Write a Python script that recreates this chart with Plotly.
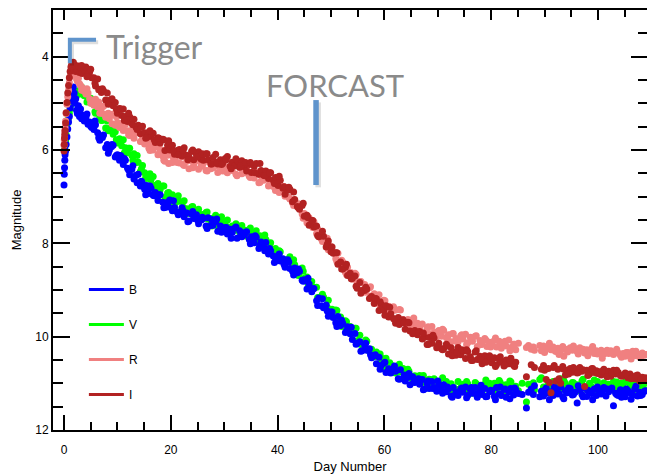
import plotly.graph_objects as go

# Main observation epochs (days since outburst), shared by all four filters
DAYS = [
    0.0, 0.05, 0.1, 0.15, 0.2, 0.3, 0.4, 0.55, 0.7, 0.85,
    1.0, 1.15, 1.3, 1.45, 1.6, 1.75, 1.9, 2.05, 2.2, 2.35,
    2.5, 2.7, 2.9, 3.1, 3.4, 3.8, 4.1, 4.5, 4.8, 5.2,
    5.6, 5.9, 6.3, 6.7, 7.0, 7.4, 7.8, 8.1, 8.5, 8.9,
    9.2, 9.6, 10.0, 10.4, 10.8, 11.1, 11.5, 11.9, 12.3, 12.7,
    13.1, 13.5, 13.9, 14.3, 14.7, 15.1, 15.5, 15.9, 16.3, 16.7,
    17.1, 17.6, 18.0, 18.5, 18.9, 19.4, 19.8, 20.3, 20.7, 21.2,
    21.6, 22.1, 22.5, 23.0, 23.4, 23.9, 24.3, 24.8, 25.2, 25.7,
    26.1, 26.6, 27.0, 27.5, 27.9, 28.4, 28.8, 29.3, 29.7, 30.2,
    30.6, 31.1, 31.5, 32.0, 32.4, 32.9, 33.3, 33.8, 34.2, 34.7,
    35.1, 35.6, 36.0, 36.5, 36.9, 37.4, 37.8, 38.3, 38.7, 39.2,
    39.6, 40.1, 40.5, 41.0, 41.4, 41.9, 42.3, 42.8, 43.2, 43.7,
    44.1, 44.6, 45.0, 45.5, 45.9, 46.4, 46.8, 47.3, 47.7, 48.2,
    48.6, 49.1, 49.5, 50.0, 50.4, 50.9, 51.3, 51.8, 52.2, 52.7,
    53.1, 53.6, 54.0, 54.5, 54.9, 55.4, 55.8, 56.3, 56.7, 57.2,
    57.6, 58.1, 58.5, 59.0, 59.4, 59.9, 60.3, 60.8, 61.2, 61.7,
    62.1, 62.6, 63.0, 63.5, 63.9, 64.4, 64.8, 65.3, 65.7, 66.2,
    66.6, 67.1, 67.5, 68.0, 68.4, 68.9, 69.3, 69.8, 70.2, 70.7,
    71.1, 71.6, 72.0, 72.5, 72.9, 73.4, 73.8, 74.3, 74.7, 75.2,
    75.6, 76.1, 76.5, 77.0, 77.4, 77.9, 78.3, 78.8, 79.2, 79.7,
    80.1, 80.6, 81.0, 81.5, 81.9, 82.4, 82.8, 83.3, 83.7, 84.2,
    84.6, 85.1, 86.6, 87.0, 87.5, 87.9, 89.4, 89.8, 90.3, 90.7,
    91.2, 91.6, 92.1, 92.5, 93.0, 93.4, 93.9, 94.3, 94.8, 95.2,
    95.7, 96.1, 96.6, 97.0, 97.5, 97.9, 98.4, 98.8, 99.3, 99.7,
    100.2, 100.6, 101.1, 101.5, 102.0, 102.4, 102.9, 103.3, 103.8, 104.2,
    104.7, 105.1, 105.6, 106.0, 106.5, 106.9, 107.4, 107.8, 108.3, 108.7,
]

B_MAG = [
    6.75, 6.52, 6.38, 6.22, 6.1, 6.02, 5.88, 5.72, 5.55, 5.4,
    5.28, 5.1, 4.95, 4.82, 4.7, 4.65, 4.78, 5.0, 4.9, 5.15,
    5.22, 5.05, 5.28, 5.12, 5.25, 5.38, 5.3, 5.45, 5.4, 5.52,
    5.56, 5.46, 5.63, 5.79, 5.71, 5.68, 5.95, 5.88, 6.0, 5.93,
    5.9, 6.15, 6.1, 6.22, 6.15, 6.31, 6.22, 6.39, 6.53, 6.42,
    6.62, 6.54, 6.52, 6.77, 6.72, 6.84, 6.76, 6.93, 6.82, 6.97,
    6.91, 7.08, 6.96, 7.12, 7.23, 7.12, 7.07, 7.3, 7.23, 7.33,
    7.36, 7.24, 7.43, 7.35, 7.52, 7.37, 7.47, 7.39, 7.58, 7.5,
    7.46, 7.63, 7.45, 7.62, 7.61, 7.54, 7.74, 7.63, 7.74, 7.66,
    7.8, 7.7, 7.77, 7.67, 7.89, 7.73, 7.86, 7.82, 7.75, 7.92,
    7.86, 7.99, 7.87, 8.11, 7.97, 8.08, 7.98, 8.23, 8.16, 8.27,
    8.38, 8.27, 8.38, 8.33, 8.51, 8.35, 8.54, 8.6, 8.53, 8.63,
    8.6, 8.79, 8.78, 8.98, 8.87, 9.04, 8.97, 9.23, 9.17, 9.34,
    9.38, 9.32, 9.56, 9.47, 9.59, 9.7, 9.57, 9.76, 9.71, 9.91,
    9.79, 9.94, 10.06, 9.93, 10.14, 10.11, 10.3, 10.18, 10.29, 10.26,
    10.45, 10.41, 10.58, 10.44, 10.62, 10.57, 10.77, 10.69, 10.78, 10.68,
    10.74, 10.9, 10.71, 10.9, 10.95, 10.87, 11.03, 10.86, 10.98, 10.91,
    11.02, 10.92, 11.12, 11.0, 11.11, 10.96, 11.09, 11.17, 11.04, 11.15,
    11.03, 11.18, 11.12, 11.27, 11.09, 11.19, 11.26, 11.12, 11.19, 11.08,
    11.26, 11.13, 11.21, 11.09, 11.3, 11.16, 11.24, 11.11, 11.28, 11.18,
    11.16, 11.28, 11.09, 11.23, 11.26, 11.13, 11.3, 11.18, 11.11, 11.25,
    11.14, 11.22, 11.53, 11.19, 11.12, 11.24, 11.17, 11.27, 11.1, 11.21,
    11.18, 11.26, 11.13, 11.23, 11.08, 11.29, 11.16, 11.2, 11.11, 11.25,
    11.19, 11.42, 11.14, 11.24, 11.1, 11.28, 11.17, 11.22, 11.12, 11.26,
    11.15, 11.23, 11.09, 11.27, 11.18, 11.13, 11.48, 11.21, 11.26, 11.14,
    11.22, 11.29, 11.16, 11.2, 11.25, 11.12, 11.27, 11.19, 11.24, 11.17,
]

V_MAG = [
    None, None, 6.0, 5.93, 5.88, 5.8, 5.68, 5.55, 5.42, 5.32,
    5.22, 5.12, 5.03, 4.96, 4.9, 4.86, 4.92, 4.82, 4.77, 4.83,
    4.74, 4.79, 4.72, 4.8, 4.75, 4.84, 4.82, 4.9, 4.95, 5.0,
    5.01, 5.21, 5.08, 5.3, 5.37, 5.33, 5.53, 5.38, 5.54, 5.52,
    5.66, 5.61, 5.85, 5.76, 5.91, 5.78, 5.95, 6.06, 5.96, 6.11,
    6.08, 6.27, 6.26, 6.46, 6.33, 6.49, 6.61, 6.53, 6.64, 6.57,
    6.8, 6.72, 6.85, 6.77, 7.02, 6.92, 7.04, 6.96, 7.16, 7.1,
    7.1, 7.26, 7.09, 7.26, 7.32, 7.22, 7.42, 7.32, 7.27, 7.44,
    7.47, 7.34, 7.48, 7.59, 7.46, 7.4, 7.62, 7.55, 7.64, 7.54,
    7.5, 7.72, 7.63, 7.72, 7.61, 7.76, 7.62, 7.76, 7.85, 7.73,
    7.9, 7.79, 7.73, 7.97, 7.9, 8.01, 7.92, 8.1, 7.99, 8.16,
    8.11, 8.29, 8.18, 8.34, 8.45, 8.34, 8.29, 8.53, 8.46, 8.57,
    8.62, 8.53, 8.75, 8.72, 8.93, 8.82, 8.96, 8.94, 9.17, 9.14,
    9.15, 9.37, 9.22, 9.44, 9.46, 9.43, 9.66, 9.58, 9.72, 9.66,
    9.84, 9.78, 9.88, 9.82, 10.09, 9.97, 10.13, 10.13, 10.1, 10.31,
    10.27, 10.43, 10.33, 10.58, 10.45, 10.56, 10.46, 10.69, 10.6, 10.69,
    10.78, 10.65, 10.75, 10.68, 10.86, 10.7, 10.88, 10.92, 10.84, 10.92,
    10.83, 10.98, 10.93, 11.07, 10.91, 11.02, 10.9, 11.09, 10.98, 11.09,
    11.08, 10.96, 11.15, 11.01, 11.08, 11.14, 10.96, 11.1, 11.02, 11.17,
    11.01, 11.1, 11.17, 10.98, 11.13, 11.05, 11.2, 11.02, 11.09, 11.0,
    11.12, 11.0, 11.15, 10.94, 11.08, 11.18, 11.03, 11.1, 10.97, 11.14,
    11.06, 11.16, 11.4, 11.02, 11.12, 10.99, 10.88, 11.08, 11.15, 11.01,
    11.1, 10.96, 11.14, 11.04, 10.9, 11.12, 11.0, 11.17, 11.06, 10.98,
    11.11, 11.03, 11.16, 10.95, 11.09, 11.13, 11.0, 11.07, 10.93, 11.12,
    11.05, 11.15, 10.99, 11.1, 11.02, 11.14, 10.96, 11.08, 11.12, 11.0,
    11.09, 10.97, 11.13, 11.04, 11.16, 11.01, 11.11, 10.98, 11.07, 11.14,
]

R_MAG = [
    5.9, 5.78, 5.72, 5.6, 5.52, 5.38, 5.22, 5.02, 4.86, 4.72,
    4.56, 4.42, 4.3, 4.2, 4.15, 4.22, 4.32, 4.4, 4.36, 4.48,
    4.52, 4.46, 4.58, 4.62, 4.66, 4.74, 4.8, 4.78, 4.9, 4.95,
    5.04, 4.91, 5.08, 5.21, 5.1, 5.06, 5.3, 5.23, 5.33, 5.25,
    5.23, 5.47, 5.41, 5.52, 5.43, 5.58, 5.45, 5.59, 5.69, 5.57,
    5.75, 5.63, 5.58, 5.82, 5.76, 5.87, 5.79, 5.96, 5.85, 6.0,
    5.93, 6.1, 5.98, 6.13, 6.24, 6.11, 6.05, 6.27, 6.19, 6.27,
    6.28, 6.15, 6.33, 6.24, 6.4, 6.23, 6.32, 6.23, 6.41, 6.32,
    6.28, 6.44, 6.24, 6.4, 6.38, 6.29, 6.48, 6.36, 6.45, 6.35,
    6.49, 6.38, 6.44, 6.33, 6.55, 6.38, 6.51, 6.46, 6.39, 6.56,
    6.48, 6.6, 6.47, 6.7, 6.55, 6.65, 6.54, 6.77, 6.69, 6.78,
    6.87, 6.74, 6.85, 6.79, 6.99, 6.85, 7.05, 7.13, 7.08, 7.21,
    7.17, 7.37, 7.36, 7.56, 7.45, 7.61, 7.54, 7.79, 7.73, 7.9,
    7.94, 7.89, 8.14, 8.07, 8.2, 8.33, 8.21, 8.43, 8.4, 8.62,
    8.51, 8.66, 8.77, 8.64, 8.84, 8.82, 9.01, 8.88, 8.99, 8.95,
    9.13, 9.08, 9.24, 9.1, 9.28, 9.22, 9.43, 9.35, 9.46, 9.36,
    9.43, 9.61, 9.43, 9.63, 9.69, 9.63, 9.8, 9.64, 9.76, 9.71,
    9.82, 9.73, 9.93, 9.81, 9.93, 9.78, 9.91, 10.0, 9.87, 9.99,
    9.87, 10.02, 9.96, 10.11, 9.93, 10.04, 10.11, 9.98, 10.05, 9.95,
    10.13, 10.01, 10.1, 9.99, 10.21, 10.08, 10.16, 10.04, 10.21, 10.12,
    10.18, 10.08, 10.22, 10.1, 10.25, 10.13, 10.2, 10.07, 10.24, 10.16,
    10.28, 10.14, 10.23, 10.19, 10.27, 10.22, 10.3, 10.2, 10.26, 10.24,
    10.28, 10.22, 10.32, 10.25, 10.3, 10.21, 10.27, 10.33, 10.24, 10.29,
    10.26, 10.32, 10.24, 10.3, 10.35, 10.28, 10.31, 10.26, 10.36, 10.3,
    10.34, 10.29, 10.37, 10.32, 10.36, 10.3, 10.38, 10.33, 10.35, 10.4,
    10.36, 10.42, 10.34, 10.39, 10.31, 10.41, 10.37, 10.44, 10.35, 10.4,
]

I_MAG = [
    6.02, 5.88, 5.75, 5.66, 5.58, 5.42, 5.2, 4.98, 4.78, 4.62,
    4.45, 4.32, 4.22, 4.16, 4.24, 4.12, 4.28, 4.18, 4.32, 4.22,
    4.3, 4.2, 4.34, 4.24, 4.36, 4.28, 4.22, 4.38, 4.33, 4.45,
    4.45, 4.63, 4.48, 4.7, 4.77, 4.73, 4.93, 4.78, 4.94, 4.92,
    5.05, 4.98, 5.21, 5.11, 5.26, 5.12, 5.28, 5.39, 5.29, 5.43,
    5.34, 5.51, 5.47, 5.65, 5.49, 5.63, 5.73, 5.62, 5.71, 5.64,
    5.84, 5.74, 5.85, 5.77, 6.01, 5.9, 6.0, 5.9, 6.09, 6.01,
    5.99, 6.13, 5.95, 6.11, 6.15, 6.03, 6.21, 6.1, 6.04, 6.2,
    6.22, 6.08, 6.21, 6.3, 6.16, 6.09, 6.3, 6.21, 6.29, 6.18,
    6.14, 6.35, 6.26, 6.34, 6.23, 6.37, 6.23, 6.36, 6.45, 6.31,
    6.48, 6.35, 6.29, 6.52, 6.44, 6.54, 6.45, 6.61, 6.49, 6.65,
    6.59, 6.76, 6.65, 6.82, 6.95, 6.86, 6.84, 7.11, 7.06, 7.21,
    7.27, 7.19, 7.42, 7.4, 7.61, 7.51, 7.65, 7.63, 7.86, 7.84,
    7.85, 8.08, 7.95, 8.18, 8.21, 8.2, 8.45, 8.4, 8.55, 8.51,
    8.69, 8.64, 8.75, 8.7, 8.96, 8.84, 9.01, 9.01, 8.98, 9.18,
    9.14, 9.29, 9.19, 9.44, 9.31, 9.43, 9.34, 9.58, 9.51, 9.61,
    9.71, 9.59, 9.7, 9.64, 9.84, 9.69, 9.88, 9.94, 9.87, 9.96,
    9.89, 10.05, 10.01, 10.17, 10.02, 10.14, 10.03, 10.24, 10.14, 10.26,
    10.26, 10.16, 10.37, 10.24, 10.33, 10.4, 10.23, 10.39, 10.31, 10.47,
    10.32, 10.43, 10.51, 10.33, 10.49, 10.42, 10.58, 10.41, 10.49, 10.41,
    10.56, 10.45, 10.6, 10.48, 10.55, 10.63, 10.5, 10.58, 10.46, 10.61,
    10.55, None, 10.86, None, 10.6, None, 10.7, 10.62, 10.92, 10.68,
    11.2, 10.66, 10.95, 10.7, 11.0, 10.64, 10.82, 10.72, 10.68, 10.76,
    10.7, 10.78, 10.66, 10.74, 11.07, 10.72, 10.8, 10.69, 10.77, 10.73,
    10.75, 10.82, 10.7, 10.79, 10.74, 10.85, 10.72, 10.8, 10.77, 10.83,
    10.84, 10.78, 10.88, 10.8, 10.86, 10.9, 10.82, 10.95, 10.87, 10.92,
]

# Second visit on many nights, a few hours after the first
DAYS_2 = [
    3.3, 4.3, 5.0, 5.8, 6.5, 7.2, 8.3, 9.0, 9.8, 10.6,
    11.3, 12.1, 12.9, 13.7, 14.5, 15.3, 16.1, 16.9, 17.8, 18.7,
    19.6, 20.5, 21.4, 22.3, 23.2, 24.1, 25.0, 25.9, 26.8, 27.7,
    28.6, 29.5, 30.4, 31.3, 32.2, 33.1, 34.0, 34.9, 35.8, 36.7,
    37.6, 38.5, 39.4, 40.3, 41.2, 42.1, 43.0, 43.9, 44.8, 45.7,
    46.6, 47.5, 48.4, 49.3, 50.2, 51.1, 52.0, 52.9, 53.8, 54.7,
    55.6, 56.5, 57.4, 58.3, 59.2, 60.1, 61.0, 61.9, 62.8, 63.7,
    64.6, 65.5, 66.4, 67.3, 68.2, 69.1, 70.0, 70.9, 71.8, 72.7,
    73.6, 74.5, 75.4, 76.3, 77.2, 78.1, 79.0, 79.9, 80.8, 81.7,
    82.6, 83.5, 84.4, 85.8, 88.1, 89.1, 90.0, 90.9, 91.8, 92.7,
    93.6, 94.5, 95.4, 96.3, 97.2, 98.1, 99.0, 99.9, 100.8, 101.7,
    102.6, 103.5, 104.4, 105.3, 106.2, 107.1, 108.0, 108.9,
]

B_MAG_2 = [
    5.33, 5.23, 5.49, 5.38, 5.74, 5.73, 6.07, 5.88, 6.12, 6.12,
    6.18, 6.43, 6.34, 6.7, 6.67, 6.96, 6.77, 6.98, 6.96, 7.24,
    7.22, 7.09, 7.39, 7.3, 7.54, 7.32, 7.5, 7.44, 7.68, 7.49,
    7.48, 7.76, 7.66, 7.89, 7.65, 7.83, 7.76, 8.01, 7.84, 8.04,
    8.16, 8.11, 8.41, 8.23, 8.45, 8.4, 8.68, 8.55, 8.81, 8.75,
    8.98, 9.33, 9.19, 9.45, 9.47, 9.78, 9.65, 9.88, 9.8, 10.16,
    10.31, 10.14, 10.39, 10.39, 10.7, 10.55, 10.76, 10.63, 10.91, 10.82,
    10.79, 10.97, 10.9, 11.14, 10.95, 11.11, 10.95, 11.21, 11.08, 11.3,
    11.19, 11.1, 11.31, 11.09, 11.23, 11.04, 11.29, 11.15, 11.35, 11.08,
    11.12, 11.33, 11.1, 11.24, 11.05, 11.29, 11.15, 11.35, 11.08, 11.22,
    11.33, 11.1, 11.24, 11.05, 11.29, 11.15, 11.35, 11.08, 11.22, 11.12,
    11.1, 11.24, 11.3, 11.12, 11.34, 11.06, 11.26, 11.16,
]

V_MAG_2 = [
    4.65, 4.97, 4.89, 5.18, 5.11, 5.36, 5.59, 5.51, 5.78, 5.81,
    6.06, 5.96, 6.22, 6.12, 6.4, 6.59, 6.51, 6.76, 6.78, 6.77,
    6.91, 7.13, 6.98, 7.22, 7.36, 7.21, 7.41, 7.38, 7.33, 7.63,
    7.61, 7.43, 7.64, 7.75, 7.58, 7.76, 7.72, 7.67, 7.98, 7.84,
    7.82, 8.08, 8.26, 8.16, 8.38, 8.37, 8.35, 8.69, 8.6, 8.86,
    8.94, 9.16, 9.09, 9.37, 9.41, 9.44, 9.78, 9.68, 9.93, 9.82,
    10.17, 10.07, 10.33, 10.36, 10.37, 10.7, 10.56, 10.76, 10.59, 10.81,
    10.74, 10.92, 10.88, 10.83, 11.1, 10.93, 11.09, 10.88, 11.06, 11.16,
    11.13, 11.05, 10.96, 11.21, 11.01, 11.15, 10.93, 11.1, 11.18, 10.98,
    11.04, 10.95, 11.2, 11.0, 11.14, 10.92, 11.09, 11.17, 10.97, 11.12,
    10.94, 11.19, 10.99, 11.13, 10.91, 11.08, 11.16, 10.96, 11.11, 11.03,
    11.12, 10.97, 11.08, 10.93, 11.15, 11.02, 11.1, 11.0,
]

R_MAG_2 = [
    4.72, 4.69, 5.0, 4.96, 4.97, 5.22, 5.21, 5.44, 5.29, 5.5,
    5.46, 5.68, 5.58, 5.57, 5.82, 5.79, 6.01, 5.87, 6.08, 6.22,
    6.29, 6.17, 6.11, 6.31, 6.22, 6.38, 6.19, 6.35, 6.45, 6.29,
    6.34, 6.28, 6.46, 6.37, 6.52, 6.33, 6.49, 6.59, 6.46, 6.69,
    6.52, 6.74, 6.7, 6.91, 6.78, 7.01, 7.19, 7.15, 7.46, 7.43,
    7.66, 7.69, 7.96, 7.89, 8.17, 8.39, 8.36, 8.67, 8.63, 8.67,
    8.82, 9.05, 8.93, 9.16, 9.33, 9.23, 9.5, 9.43, 9.42, 9.66,
    9.75, 9.6, 9.8, 9.92, 9.79, 10.01, 9.89, 9.84, 10.03, 9.94,
    10.11, 9.96, 10.17, 10.04, 9.98, 10.17, 10.07, 10.22, 10.03, 10.18,
    10.1, 10.3, 10.16, None, 10.29, 10.19, 10.34, 10.14, 10.29, 10.38,
    10.42, 10.27, 10.2, 10.37, 10.27, 10.41, 10.21, 10.37, 10.46, 10.29,
    10.33, 10.27, 10.44, 10.34, 10.48, 10.31, 10.45, 10.38,
]

I_MAG_2 = [
    4.19, 4.43, 4.27, 4.57, 4.71, 4.69, 5.02, 4.9, 5.12, 5.12,
    5.37, 5.21, 5.46, 5.56, 5.51, 5.75, 5.59, 5.78, 5.75, 5.78,
    5.8, 6.02, 6.1, 6.01, 6.21, 6.0, 6.15, 6.08, 6.08, 6.3,
    6.26, 6.31, 6.21, 6.4, 6.19, 6.34, 6.27, 6.27, 6.49, 6.29,
    6.55, 6.49, 6.72, 6.56, 6.79, 6.8, 6.9, 7.24, 7.14, 7.45,
    7.51, 7.83, 7.74, 8.02, 8.08, 8.2, 8.55, 8.45, 8.76, 8.92,
    9.07, 8.94, 9.17, 9.18, 9.25, 9.54, 9.37, 9.63, 9.74, 9.7,
    9.7, 9.9, 9.9, 9.92, 10.17, 9.97, 10.2, 10.28, 10.2, 10.41,
    10.34, 10.28, 10.28, 10.51, 10.3, 10.5, 10.55, 10.45, 10.64, 10.43,
    10.6, 10.5, 10.64, None, 10.66, None, 10.72, 10.98, 10.62, 10.9,
    10.7, 10.8, 10.66, 10.77, 10.71, 10.83, 10.68, 10.79, 10.74, 10.86,
    10.78, 10.72, 10.85, 10.8, 10.9, 10.84, 10.93, 10.88,
]

FILTERS = ["B", "V", "R", "I"]
COLORS = {"B": "#0000FF", "V": "#00FF00", "R": "#F08080", "I": "#B22222"}
FIRST = {"B": B_MAG, "V": V_MAG, "R": R_MAG, "I": I_MAG}
SECOND = {"B": B_MAG_2, "V": V_MAG_2, "R": R_MAG_2, "I": I_MAG_2}
for name in FILTERS:
    assert len(FIRST[name]) == len(DAYS), name
    assert len(SECOND[name]) == len(DAYS_2), name

# Event markers: optical trigger and the FORCAST observation
TRIGGER_DAY = 1.1
FORCAST_DAY = 47.2

FONT = "Liberation Sans, Arial, Helvetica, sans-serif"
ANNOT_FONT = "Lato, Open Sans, sans-serif"
ANNOT_GREY = "#8a8a8a"
MARK_BLUE = "#5F94CC"
SHADOW = "rgba(0,0,0,0.13)"

fig = go.Figure()

# Scatter points, drawn so blue sits over green and dark red over salmon
for name in ["V", "B", "R", "I"]:
    fig.add_trace(go.Scatter(
        x=DAYS + DAYS_2, y=FIRST[name] + SECOND[name], mode="markers", name=name,
        marker=dict(size=7, color=COLORS[name], line=dict(width=0)),
        showlegend=False, hoverinfo="x+y",
    ))

# Legend entries shown as short thick lines
for name in FILTERS:
    fig.add_trace(go.Scatter(
        x=[None], y=[None], mode="lines", name=name, legendgroup=name,
        line=dict(color=COLORS[name], width=3),
    ))

# Empty trace so the mirrored top/right axes are drawn
fig.add_trace(go.Scatter(x=[], y=[], xaxis="x2", yaxis="y2",
                         showlegend=False, hoverinfo="skip"))

X_RANGE = [-2.06, 109.18]
Y_RANGE = [12, 3]

axis_common = dict(
    showgrid=False, zeroline=False, linecolor="black", linewidth=2,
    ticks="inside", tickcolor="black", tickwidth=1.5,
    tickfont=dict(family=FONT, size=12, color="black"),
)

fig.update_layout(
    width=647, height=475,
    margin=dict(l=53, r=0, t=10, b=45),
    paper_bgcolor="white", plot_bgcolor="white",
    font=dict(family=FONT, size=12, color="black"),
    xaxis=dict(
        range=X_RANGE, showline=True, dtick=20, tick0=0, ticklen=15,
        ticklabelstandoff=8,
        minor=dict(dtick=5, ticklen=8, ticks="inside", tickcolor="black", tickwidth=1.5),
        title=dict(text="Day Number", font=dict(family=FONT, size=13), standoff=5),
        **axis_common,
    ),
    yaxis=dict(
        range=Y_RANGE, showline=True, dtick=2, tick0=0, ticklen=17,
        minor=dict(dtick=0.5, ticklen=10, ticks="inside", tickcolor="black", tickwidth=1.5),
        title=dict(text="Magnitude", font=dict(family=FONT, size=13), standoff=11),
        **axis_common,
    ),
    xaxis2=dict(
        range=X_RANGE, overlaying="x", side="top", anchor="y2", showline=True,
        dtick=20, tick0=0, ticklen=10, showticklabels=False,
        minor=dict(dtick=5, ticklen=7, ticks="inside", tickcolor="black", tickwidth=1.5),
        **axis_common,
    ),
    yaxis2=dict(
        range=Y_RANGE, overlaying="y", side="right", anchor="x2", showline=False,
        dtick=2, tick0=0, ticklen=16, showticklabels=False,
        minor=dict(dtick=0.5, ticklen=9, ticks="inside", tickcolor="black", tickwidth=1.5),
        **axis_common,
    ),
    legend=dict(
        x=0.052, y=0.369, xanchor="left", yanchor="top",
        bgcolor="rgba(0,0,0,0)", borderwidth=0,
        font=dict(family=FONT, size=12, color="black"),
        tracegroupgap=16, itemwidth=35,
    ),
    showlegend=True,
)

# Trigger bracket and FORCAST marker, each with a faint drop shadow
fig.add_shape(type="path",
              path=f"M 6.4,3.69 L {TRIGGER_DAY + 0.4},3.69 L {TRIGGER_DAY + 0.4},4.19",
              xref="x", yref="y", line=dict(color=SHADOW, width=4))
fig.add_shape(type="path",
              path=f"M 6.0,3.64 L {TRIGGER_DAY},3.64 L {TRIGGER_DAY},4.14",
              xref="x", yref="y", line=dict(color=MARK_BLUE, width=4))
fig.add_shape(type="line", x0=FORCAST_DAY + 0.4, x1=FORCAST_DAY + 0.4, y0=4.98, y1=6.8,
              xref="x", yref="y", line=dict(color=SHADOW, width=5.5))
fig.add_shape(type="line", x0=FORCAST_DAY, x1=FORCAST_DAY, y0=4.93, y1=6.75,
              xref="x", yref="y", line=dict(color=MARK_BLUE, width=5.5))

fig.add_annotation(text="Trigger", xref="paper", yref="paper", x=0.086, y=0.912,
                   xanchor="left", yanchor="middle", showarrow=False,
                   font=dict(family=ANNOT_FONT, size=32, color=ANNOT_GREY))
fig.add_annotation(text="FORCAST", xref="paper", yref="paper", x=0.355, y=0.821,
                   xanchor="left", yanchor="middle", showarrow=False,
                   font=dict(family=ANNOT_FONT, size=31, color=ANNOT_GREY))

fig.write_html("out.html")
